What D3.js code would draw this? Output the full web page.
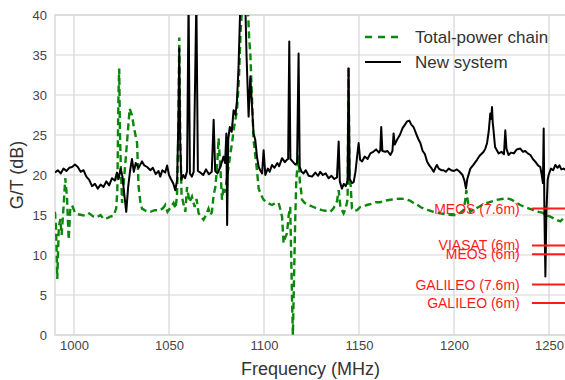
<!DOCTYPE html>
<html>
<head>
<meta charset="utf-8">
<script src="https://cdn.jsdelivr.net/npm/d3@7"></script>
<style>
  body { margin: 0; background: #fff; }
  svg { display: block; font-family: "Liberation Sans", Arial, sans-serif; }
</style>
</head>
<body>
<div id="chart"></div>
<script>
const W = 565, H = 380;
const MARGIN = { TOP: 15, RIGHT: -3, BOTTOM: 45, LEFT: 55 };

const xTicks = [1000, 1050, 1100, 1150, 1200, 1250];
const yTicks = [0, 5, 10, 15, 20, 25, 30, 35, 40];

// satellite service levels (dB)
const bandLabels = ["MEOS (7.6m)", "VIASAT (6m)", "MEOS (6m)", "GALILEO (7.6m)", "GALILEO (6m)"];
const bandLevels = [15.8, 11.2, 10.1, 6.3, 4.0];

const seriesNames = ["Total-power chain", "New system"];

// [frequency MHz, G/T dB]
const totalPower = [
  [990,15.4],[990.6,13.0],[991.2,7.0],[992,13.5],[992.8,14.5],[993.5,12.5],[994.5,16.0],[995.4,19.6],
  [996.3,17.3],[997.2,11.9],[998,15.6],[999,16.2],[1000.5,15.3],[1002,15.1],[1004,15.0],[1006,14.9],
  [1008,15.2],[1010.3,14.8],[1012,14.7],[1014,15.0],[1015.6,14.5],[1017.5,14.6],[1019,14.8],[1020.8,14.9],
  [1022.2,15.8],[1022.8,18],[1023.4,30],[1023.8,33.3],[1024.2,25],[1024.6,21.5],[1025.3,16.5],[1026,18.5],
  [1027.2,22],[1028,24.4],[1029.3,28.3],[1030.5,27.5],[1031.5,26],[1033.2,24],[1034,18.5],[1035,16.5],
  [1035.8,15.8],[1038,15.5],[1040.2,15.4],[1042.5,15.6],[1045.4,15.6],[1047,15.9],[1048,16.25],[1049.2,15.4],
  [1051,16.0],[1052.4,16.5],[1053.4,15.8],[1054.2,17.3],[1054.9,25],[1055.4,37.2],[1055.9,25],[1056.6,17.5],
  [1057.5,16.5],[1058.6,15.4],[1059.5,18.5],[1060.8,16.6],[1062.1,17.3],[1063.5,16.0],[1064.5,17.0],[1065.6,15.2],
  [1067,14.8],[1068.2,14.4],[1069.5,15.0],[1070.8,15.8],[1071.8,15.0],[1072.6,15.4],[1073.5,17.5],[1074.4,18.5],
  [1075.3,21],[1076.1,24.6],[1077,21],[1077.9,16.9],[1078.7,18.5],[1079.6,17.8],[1080.5,19.8],[1081.4,21],
  [1082.3,22.7],[1083.2,24],[1084,25.6],[1085,27],[1085.8,28.1],[1086.8,32],[1087.7,38],[1088.5,41],
  [1091.5,41],[1092.2,37],[1092.8,35.2],[1093.6,30],[1094.5,24.4],[1095.4,22.5],[1096.3,20.6],[1097.2,18.3],
  [1098.5,17.5],[1099.8,16.9],[1102,16.5],[1104.2,16.25],[1106,16.5],[1107.7,16.5],[1108.7,15.6],[1109.5,14.8],
  [1110.3,11.5],[1111.2,12.2],[1112.1,12.7],[1113,15],[1113.8,16],[1114.3,10],[1114.8,4],[1115.2,0],
  [1115.7,6],[1116.4,14],[1117,19.4],[1117.6,21],[1118.2,22.5],[1118.9,19],[1119.5,18.1],[1120,16.9],
  [1121.5,16.5],[1123.5,16.25],[1126,16.0],[1128,15.8],[1130.5,15.6],[1133,15.5],[1134.9,15.4],[1136.5,15.8],
  [1138.4,16.7],[1139.3,18.1],[1140.2,16.0],[1141.9,15.2],[1143,15.8],[1144,17],[1144.5,33.5],[1145,19],
  [1145.6,18.75],[1146.3,15.8],[1147.5,15.5],[1149,15.6],[1150.7,16.0],[1152.5,16.1],[1154.2,16.25],[1156.5,16.4],
  [1158.8,16.6],[1161.2,16.6],[1164,16.8],[1166.5,16.9],[1169,17.0],[1171.7,17.05],[1174.5,17.0],[1176.8,16.8],
  [1178.7,16.5],[1180.5,16.3],[1182.3,16.0],[1184,15.8],[1186.5,15.6],[1189.3,15.4],[1192.8,15.2],[1195.5,15.1],
  [1198.5,15.0],[1201.6,15.0],[1203.3,15.3],[1205,15.6],[1205.9,16.8],[1206.5,18.1],[1207.5,16.3],[1208.6,15.4],
  [1210.5,15.7],[1213,16.0],[1215.2,16.3],[1217.4,16.5],[1220,16.7],[1222.5,16.9],[1225.2,17.0],[1227.9,17.1],
  [1230.5,16.9],[1233,16.5],[1234.9,16.25],[1237.2,16.0],[1239.6,15.8],[1241.9,15.6],[1244.5,15.4],[1246.4,15.3],
  [1247.2,15.2],[1248,16],[1248.6,15],[1249.5,14.9],[1250.7,14.8],[1253,14.5],[1256,14.2],[1257.7,14.6],
  [1258.8,14.4],[1260,14.8]
];

const newSystem = [
  [990,20.3],[991.5,20.6],[993,20.2],[994.5,20.8],[996,20.5],[997.5,20.9],[999,21.0],[1000.5,21.3],
  [1002,21.0],[1003.5,20.4],[1005,20.6],[1006.5,19.8],[1008,19.4],[1009.5,18.6],[1011,18.9],[1012.5,18.3],
  [1014,18.8],[1015.5,18.5],[1017,19.2],[1018.5,18.7],[1020,19.6],[1021.5,19.3],[1022.6,20.3],[1023.5,19.5],
  [1024.5,20.8],[1025.5,19.8],[1026.5,17.5],[1027.5,15.4],[1028.5,18.5],[1029.5,20.5],[1030.5,22.0],[1031.5,20.4],
  [1032.5,21.5],[1034,20.9],[1035.8,21.7],[1037,21.2],[1038.5,21.0],[1040.2,20.6],[1041.5,20.9],[1043,20.1],
  [1044.5,20.5],[1045.4,19.8],[1046.5,20.6],[1048,20.3],[1049,21.2],[1050,20.0],[1051,19.5],[1052.3,18.9],
  [1053.3,18.1],[1054.3,19.4],[1055.0,28],[1055.4,35.8],[1055.9,24],[1056.5,19.4],[1057.5,20.0],[1058.5,19.6],
  [1059.5,20.5],[1060.3,42],[1061,20.2],[1062,19.8],[1063,20.4],[1064.4,42],[1065.2,20.5],[1066.5,20.3],
  [1068,20.0],[1069.5,20.7],[1071,20.1],[1072.5,20.4],[1073.5,26.9],[1074.3,20.5],[1075.5,20.2],[1077,21.0],
  [1078.7,22.3],[1079.5,21.5],[1080.2,25.2],[1080.6,13.75],[1081.2,24.5],[1082,26.0],[1083,25.4],[1084,28.1],
  [1085,27.5],[1085.8,29.4],[1086.6,33.5],[1087.5,41],[1090.2,41],[1090.8,35],[1091.9,27.3],[1092.8,32.3],
  [1093.6,29],[1094.5,25.2],[1095.4,24.4],[1096.3,22.3],[1097.2,21.0],[1098,20.6],[1099,20.2],[1099.8,23.1],
  [1100.7,20.0],[1102,20.8],[1103,20.4],[1104.2,21.25],[1105.5,20.9],[1107,21.5],[1108,21.1],[1109.5,22.1],
  [1111,21.6],[1112,21.9],[1112.7,22],[1113.3,36.7],[1113.9,22],[1115,21.7],[1116.5,21.3],[1117.4,21.5],
  [1118.2,35.2],[1118.8,21],[1119.8,20.4],[1120.8,20.2],[1122,20.6],[1123.5,19.9],[1125.3,19.8],[1127,20.3],
  [1128.5,19.9],[1129.6,20.4],[1131,20.0],[1132.5,20.2],[1134,19.6],[1135.5,19.9],[1137,19.5],[1138.4,19.7],
  [1139.3,24.2],[1139.9,19.2],[1141,18.3],[1142,18.9],[1143,18.6],[1144,19.3],[1144.5,33.3],[1145.1,19.5],
  [1146.3,19.0],[1147.2,19.1],[1148.2,20.5],[1149,22.3],[1149.8,24],[1150.6,21.9],[1151.6,21.7],[1153,22.3],
  [1154.5,22.0],[1156,22.7],[1157.5,22.9],[1159,23.2],[1160.5,22.8],[1161.2,23.1],[1161.7,26],[1162.3,23.0],
  [1163.8,22.9],[1165,23.0],[1166.5,22.5],[1167.6,23.0],[1168.2,25.2],[1168.8,23.8],[1170,24.4],[1171.5,25.0],
  [1173,25.9],[1174.5,26.4],[1175.3,26.7],[1176.5,26.8],[1177.5,26.3],[1178.7,26.0],[1180,25.2],[1181.2,24.5],
  [1182.3,24.0],[1183.5,23.0],[1184.7,22.6],[1185.8,21.7],[1187,21.2],[1188,20.9],[1189.3,20.4],[1190.2,20.9],
  [1191,21.25],[1192,20.8],[1193.3,20.6],[1194.5,20.6],[1195.7,20.4],[1197.2,20.8],[1198.5,20.6],[1200,20.5],
  [1201.5,20.7],[1203,20.4],[1204.5,20.0],[1205.5,19.3],[1206.3,18.3],[1207,19.5],[1208.6,20.8],[1210,21.2],
  [1212.1,21.9],[1213.5,22.4],[1215.6,22.9],[1216.5,23.3],[1217.4,24],[1218.3,25.5],[1219.1,27.7],[1219.6,27.0],
  [1220,28.5],[1220.4,26.5],[1220.8,25.6],[1221.6,23.5],[1223.5,22.7],[1225,22.9],[1226.3,22.6],[1227,25.6],
  [1227.6,23.3],[1228.7,22.5],[1230,22.8],[1231.5,22.7],[1233,23.2],[1234.9,23.3],[1236.3,22.9],[1237.5,23.0],
  [1238.8,22.7],[1240.2,22.5],[1241.5,22.0],[1243,21.6],[1244.2,21.2],[1245.4,21.0],[1246.2,20.0],[1246.8,19],
  [1247.2,25.8],[1247.6,15],[1248.1,7.3],[1248.6,15],[1249.3,19.4],[1249.8,20.0],[1251,20.8],[1252.2,20.6],
  [1253.3,21.25],[1254.5,20.9],[1255.5,21.2],[1256.5,20.7],[1257.7,20.8],[1259,20.6],[1260,20.9]
];

const GREEN = "#0b870b";
const GRID = "#d6d6d6";
const FONT = "'Liberation Sans', Arial, sans-serif";

const svg = d3.select("#chart").append("svg")
  .attr("width", W).attr("height", H);

const x = d3.scaleLinear().domain([990, 1260]).range([MARGIN.LEFT, W - MARGIN.RIGHT]);
const y = d3.scaleLinear().domain([0, 40]).range([H - MARGIN.BOTTOM, MARGIN.TOP]);

// grid
svg.append("g").selectAll("line").data(xTicks).join("line")
  .attr("x1", d => x(d)).attr("x2", d => x(d))
  .attr("y1", y(0)).attr("y2", y(40))
  .attr("stroke", GRID).attr("stroke-width", 1.2);
svg.append("g").selectAll("line").data(yTicks).join("line")
  .attr("x1", x(990)).attr("x2", x(1260))
  .attr("y1", d => y(d)).attr("y2", d => y(d))
  .attr("stroke", GRID).attr("stroke-width", 1.2);

// spines
svg.append("rect")
  .attr("x", x(990)).attr("y", y(40))
  .attr("width", x(1260) - x(990)).attr("height", y(0) - y(40))
  .attr("fill", "none").attr("stroke", GRID).attr("stroke-width", 1.4);

// axes (labels only, no tick marks)
const xAxis = d3.axisBottom(x).tickValues(xTicks).tickSize(0).tickPadding(6).tickFormat(d3.format("d"));
const yAxis = d3.axisLeft(y).tickValues(yTicks).tickSize(0).tickPadding(8);
const gx = svg.append("g").attr("transform", `translate(0,${y(0)})`).call(xAxis);
const gy = svg.append("g").attr("transform", `translate(${x(990)},0)`).call(yAxis);
[gx, gy].forEach(g => {
  g.attr("font-family", FONT).attr("font-size", 13);
  g.select(".domain").remove();
  g.selectAll("text").attr("fill", "#444");
});

svg.append("text")
  .attr("x", (x(990) + x(1260)) / 2 - 1).attr("y", 375)
  .attr("text-anchor", "middle").attr("fill", "#333")
  .attr("font-family", FONT).attr("font-size", 18)
  .text("Frequency (MHz)");
svg.append("text")
  .attr("transform", `translate(23,${(y(0) + y(40)) / 2}) rotate(-90)`)
  .attr("text-anchor", "middle").attr("fill", "#333")
  .attr("font-family", FONT).attr("font-size", 18)
  .text("G/T (dB)");

// clip to plot area
svg.append("defs").append("clipPath").attr("id", "clip")
  .append("rect")
  .attr("x", x(990)).attr("y", y(40))
  .attr("width", x(1260) - x(990)).attr("height", y(0) - y(40));

const line = d3.line().x(d => x(d[0])).y(d => y(d[1]));
const plot = svg.append("g").attr("clip-path", "url(#clip)");

plot.append("path").datum(totalPower)
  .attr("d", line).attr("fill", "none")
  .attr("stroke", GREEN).attr("stroke-width", 2.4)
  .attr("stroke-dasharray", "7,4");

plot.append("path").datum(newSystem)
  .attr("d", line).attr("fill", "none")
  .attr("stroke", "#000").attr("stroke-width", 2)
  .attr("stroke-linejoin", "round");

// service levels
plot.selectAll(".band").data(bandLevels).join("line")
  .attr("class", "band")
  .attr("x1", x(1241)).attr("x2", x(1260))
  .attr("y1", d => y(d)).attr("y2", d => y(d))
  .attr("stroke", "#ff1a1a").attr("stroke-width", 2);
svg.selectAll(".bandLabel").data(bandLabels).join("text")
  .attr("class", "bandLabel")
  .attr("x", x(1234.6)).attr("y", (d, i) => y(bandLevels[i]))
  .attr("dy", "0.36em").attr("text-anchor", "end")
  .attr("fill", "#ff1a1a")
  .attr("font-family", FONT).attr("font-size", 14)
  .text(d => d);

// legend
const legend = svg.append("g").attr("transform", "translate(365,37)");
seriesNames.forEach((name, i) => {
  const row = legend.append("g").attr("transform", `translate(0,${i * 25})`);
  row.append("line").attr("x1", 0).attr("x2", 36).attr("y1", 0).attr("y2", 0)
    .attr("stroke", i === 0 ? GREEN : "#000").attr("stroke-width", i === 0 ? 2.4 : 2)
    .attr("stroke-dasharray", i === 0 ? "7,6" : null);
  row.append("text").attr("x", 50).attr("y", 0).attr("dy", "0.35em")
    .attr("fill", "#333").attr("font-family", FONT).attr("font-size", 17).text(name);
});
</script>
</body>
</html>
